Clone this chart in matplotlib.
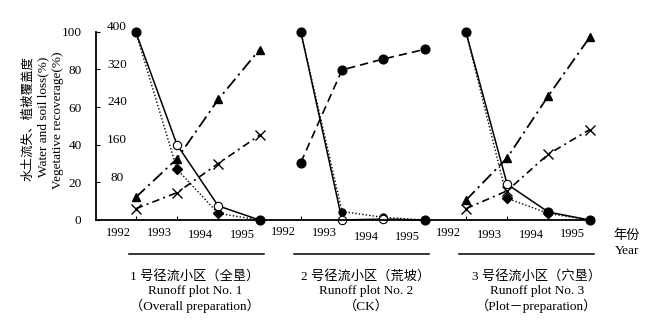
import matplotlib
matplotlib.use("Agg")
import matplotlib.pyplot as plt
import matplotlib.transforms as mtransforms

plt.rcParams['font.family'] = ['Liberation Serif', 'Noto Sans CJK SC']
MIX = ['Liberation Serif', 'Noto Sans CJK SC']

# data, four years per runoff plot
years = ["1992", "1993", "1994", "1995"]

# plot 1 (全垦)
p1_solid = [100, 40, 7.5, 0]
p1_dot = [100, 27, 3.5, 0]
p1_tri = [12, 32.5, 64, 90.5]
p1_x = [6, 14.5, 30, 45]

# plot 2 (荒坡, CK)
p2_solid = [100, 0, 0.5, 0]
p2_dot = [100, 4.5, 1.4, 0]
p2_veg = [30.5, 79.7, 85.5, 90.6]

# plot 3 (穴垦)
p3_solid = [100, 19, 4.2, 0]
p3_dot = [100, 11.5, 3.5, 0]
p3_tri = [10.5, 33, 66, 97]
p3_x = [6, 15.5, 35, 48]

left_ticks = [0, 20, 40, 60, 80, 100]
right_ticks = [80, 160, 240, 320, 400]

panel_titles = [
    ["1 号径流小区（全垦）", "Runoff plot No. 1", "（Overall preparation）"],
    ["2 号径流小区（荒坡）", "Runoff plot No. 2", "（CK）"],
    ["3 号径流小区（穴垦）", "Runoff plot No. 3", "（Plot－preparation）"],
]

# year label vertical positions (staggered as in the original), pixels below axis
year_drop = [13, 13, 15, 15, 12, 13, 17, 17, 13, 15, 15, 14]

fig = plt.figure(figsize=(6.58, 3.30), dpi=100)
ax = fig.add_axes([95.5 / 658, 110 / 330, 496 / 658, 188.3 / 330])
ax.set_xlim(-0.974, 11.044)
ax.set_ylim(0, 100)
for s in ['top', 'right']:
    ax.spines[s].set_visible(False)
for s in ['left', 'bottom']:
    ax.spines[s].set_linewidth(1.3)

ax.set_yticks(left_ticks)
ax.set_yticklabels([str(v) for v in left_ticks], fontsize=9.5)
ax.tick_params(axis='y', direction='in', length=3, width=0.8, pad=10)
ax.set_xticks(range(12))
ax.set_xticklabels([])
ax.tick_params(axis='x', direction='in', length=3, width=0.8)

k = dict(color='black', clip_on=False)
tri_ls = (0, (7, 2.5, 1.2, 2.5))
x_ls = (0, (4.5, 2.5, 1.2, 2.5))
dot_ls = (0, (1, 1.5))


def loss_pair(x0, solid, dot, hollow, dot_marker):
    xs = [x0 + i for i in range(4)]
    ax.plot(xs, dot, linestyle=dot_ls, lw=1.0, **k)
    ax.plot(xs[1:3], dot[1:3], linestyle='none', marker=dot_marker, ms=5, **k)
    ax.plot(xs, solid, linestyle='-', lw=1.1, **k)
    for i in range(4):
        if i in hollow:
            ax.plot(xs[i], solid[i], marker='o', ms=6, mfc='white', mec='black', mew=0.8, **k)
        else:
            ax.plot(xs[i], solid[i], marker='o', ms=6.3, **k)


def veg_pair(x0, tri, cross):
    xs = [x0 + i for i in range(4)]
    ax.plot(xs, tri, linestyle=tri_ls, lw=1.3, marker='^', ms=6, **k)
    ax.plot(xs, cross, linestyle=x_ls, lw=1.2, marker='x', ms=6.5, mew=1.0, **k)


veg_pair(0, p1_tri, p1_x)
loss_pair(0, p1_solid, p1_dot, [1, 2], 'D')

xs2 = [4 + i for i in range(4)]
ax.plot(xs2, p2_veg, linestyle=(0, (5, 3)), lw=1.2, marker='o', ms=6.3, **k)
loss_pair(4, p2_solid, p2_dot, [1, 2], 'o')

veg_pair(8, p3_tri, p3_x)
loss_pair(8, p3_solid, p3_dot, [1], 'D')

# second scale labels inside the axes
for v in right_ticks:
    ax.text(-0.45, v / 4 + 2.5, str(v), ha='center', va='center', fontsize=9.5)

# year labels under the axis
trans = mtransforms.blended_transform_factory(ax.transData, ax.transAxes)
for i in range(12):
    ax.text(i - 0.42, -year_drop[i] / 188.3, years[i % 4], transform=trans,
            ha='center', va='center', fontsize=9)

# panel lines and titles
for p in range(3):
    x0 = 4 * p
    ax.plot([x0 - 0.17, x0 + 3.1], [-0.18, -0.18], transform=trans,
            color='black', lw=1.1, clip_on=False)
    cx = (195 + 171 * p) / 658
    for txt, yp in zip(panel_titles[p], [276, 291, 306]):
        fig.text(cx, 1 - yp / 330, txt, ha='center', va='center',
                 fontsize=9.5, family=MIX)

fig.text(627 / 658, 1 - 236 / 330, "年份", ha='center', va='center', fontsize=9.5, family=MIX)
fig.text(627 / 658, 1 - 251 / 330, "Year", ha='center', va='center', fontsize=9.5)

# y-axis titles
fig.text(28 / 658, 1 - 118 / 330, "水土流失、植被覆盖度", rotation=90,
         ha='center', va='center', fontsize=9, family=MIX)
fig.text(43 / 658, 1 - 117 / 330, "Water and soil loss(%)", rotation=90,
         ha='center', va='center', fontsize=9.5)
fig.text(58 / 658, 1 - 120 / 330, "Vegetative recoverage(%)", rotation=90,
         ha='center', va='center', fontsize=9.5)

fig.savefig("out.png", dpi=100)
